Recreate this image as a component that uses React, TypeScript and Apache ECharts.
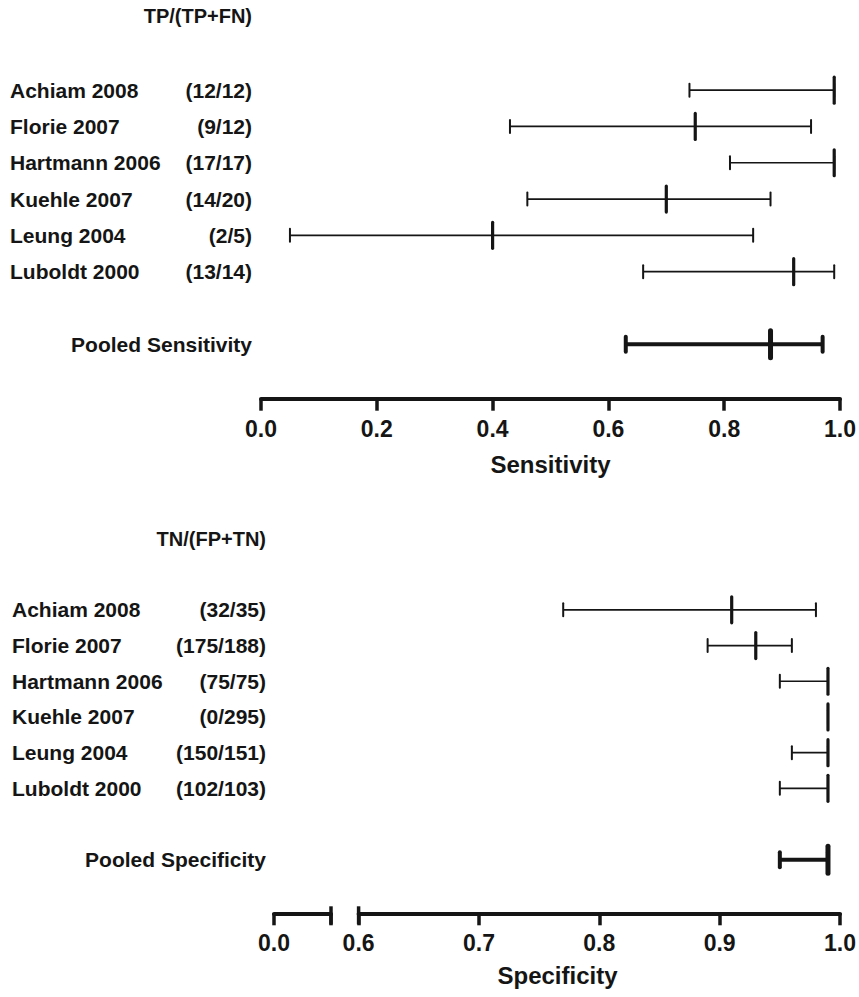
import React, { useEffect, useRef } from "react";
import * as echarts from "echarts";

// ---------- data ----------
const studies = ["Achiam 2008", "Florie 2007", "Hartmann 2006", "Kuehle 2007", "Leung 2004", "Luboldt 2000"];

const sensCounts = ["(12/12)", "(9/12)", "(17/17)", "(14/20)", "(2/5)", "(13/14)"];
const sensPoint = [0.99, 0.75, 0.99, 0.7, 0.4, 0.92];
const sensLow = [0.74, 0.43, 0.81, 0.46, 0.05, 0.66];
const sensHigh = [0.99, 0.95, 0.99, 0.88, 0.85, 0.99];
const sensPooled = { label: "Pooled Sensitivity", low: 0.63, point: 0.88, high: 0.97 };

const specCounts = ["(32/35)", "(175/188)", "(75/75)", "(0/295)", "(150/151)", "(102/103)"];
const specPoint = [0.91, 0.93, 0.99, 0.99, 0.99, 0.99];
const specLow = [0.77, 0.89, 0.95, 0.99, 0.96, 0.95];
const specHigh = [0.98, 0.96, 0.99, 0.99, 0.99, 0.99];
const specPooled = { label: "Pooled Specificity", low: 0.95, point: 0.99, high: 0.99 };

const sensTitle = "TP/(TP+FN)";
const specTitle = "TN/(FP+TN)";
const sensAxisName = "Sensitivity";
const specAxisName = "Specificity";

// broken specificity axis: left stub [0, 0.05], main part [0.6, 1.0]
const specStub = [0, 0.05];
const specMain = [0.6, 1.0];

// ---------- helpers ----------
const INK = "#151515";
const FONT = "'Liberation Sans', Arial, Helvetica, sans-serif";

const rowCats = (pooledLabel: string) => [...studies, "gap", pooledLabel, "pad"];

const buildRows = (low: number[], point: number[], high: number[], pooled: { low: number; point: number; high: number }) => {
  const rows = studies.map((_, i) => [i, low[i], point[i], high[i], 0]);
  rows.push([studies.length + 1, pooled.low, pooled.point, pooled.high, 1]);
  return rows;
};

const renderBar = (params: any, api: any) => {
  const row = api.value(0);
  const lo = api.coord([api.value(1), row]);
  const pt = api.coord([api.value(2), row]);
  const hi = api.coord([api.value(3), row]);
  const pooled = api.value(4) === 1;
  const y = lo[1];
  const lw = pooled ? 4 : 1.7;
  const capH = pooled ? 7.5 : 6.5;
  const capW = pooled ? 4 : 2;
  const ptH = pooled ? 13.5 : 13;
  const ptW = pooled ? 5 : 3.2;
  return {
    type: "group",
    children: [
      { type: "line", shape: { x1: lo[0], y1: y, x2: hi[0], y2: y }, style: { stroke: INK, lineWidth: lw } },
      { type: "line", shape: { x1: lo[0], y1: y - capH, x2: lo[0], y2: y + capH }, style: { stroke: INK, lineWidth: capW, lineCap: "round" } },
      { type: "line", shape: { x1: hi[0], y1: y - capH, x2: hi[0], y2: y + capH }, style: { stroke: INK, lineWidth: capW, lineCap: "round" } },
      { type: "line", shape: { x1: pt[0], y1: y - ptH, x2: pt[0], y2: y + ptH }, style: { stroke: INK, lineWidth: ptW, lineCap: "round" } },
    ],
  };
};

const renderCap = (params: any, api: any) => {
  const x = api.coord([api.value(0), 0])[0];
  const cs = params.coordSys;
  const yAxis = cs.y + cs.height;
  return {
    type: "line",
    shape: { x1: x, y1: yAxis - 7, x2: x, y2: yAxis + 11 },
    style: { stroke: INK, lineWidth: 3.5 },
  };
};

const rowLabel = (counts: string[]) => (value: string, idx: number) => {
  if (idx < studies.length) return `{n|${studies[idx]}}{c|${counts[idx]}}`;
  if (idx === studies.length + 1) return `{p|${value}}`;
  return "";
};

const rowRich = (nW: number, cW: number) => ({
  n: { width: nW, align: "left", fontFamily: FONT, fontWeight: "bold", fontSize: 21, color: INK },
  c: { width: cW, align: "right", fontFamily: FONT, fontWeight: "bold", fontSize: 21, color: INK },
  p: { align: "right", fontFamily: FONT, fontWeight: "bold", fontSize: 21, color: INK },
});

const axisCommon = {
  axisLine: { show: true, lineStyle: { color: INK, width: 4 } },
  axisTick: { show: true, length: 12, lineStyle: { color: INK, width: 3.5 } },
  axisLabel: {
    color: INK,
    fontFamily: FONT,
    fontWeight: "bold",
    fontSize: 23,
    margin: 19,
    formatter: (v: number) => v.toFixed(1),
  },
  splitLine: { show: false },
  nameTextStyle: { color: INK, fontFamily: FONT, fontWeight: "bold", fontSize: 24 },
};

export default function App() {
  const ref = useRef<HTMLDivElement>(null);

  useEffect(() => {
    document.body.style.margin = "0";
    if (!ref.current) return;
    const chart = echarts.init(ref.current, null, { renderer: "svg" });

    const sensRows = buildRows(sensLow, sensPoint, sensHigh, sensPooled);
    const specRows = buildRows(specLow, specPoint, specHigh, specPooled);

    const hiddenCat = (cats: string[], gridIndex: number) => ({
      type: "category",
      gridIndex,
      data: cats,
      inverse: true,
      axisLine: { show: false },
      axisTick: { show: false },
      axisLabel: { show: false },
      splitLine: { show: false },
    });

    chart.setOption({
      animation: false,
      backgroundColor: "#ffffff",
      title: [
        {
          text: sensTitle,
          right: 607,
          top: 6,
          padding: 0,
          textStyle: { color: INK, fontFamily: FONT, fontWeight: "bold", fontSize: 20 },
        },
        {
          text: specTitle,
          right: 593,
          top: 529,
          padding: 0,
          textStyle: { color: INK, fontFamily: FONT, fontWeight: "bold", fontSize: 20 },
        },
      ],
      grid: [
        { left: 261, right: 19, top: 72, height: 326.7 },
        { left: 358.6, right: 18, top: 592, height: 321.3 },
        { left: 274, width: 57, top: 592, height: 321.3 },
        { left: 274, right: 18, top: 592, height: 321.3 },
      ],
      xAxis: [
        {
          ...axisCommon,
          type: "value",
          gridIndex: 0,
          min: 0,
          max: 1,
          interval: 0.2,
          name: sensAxisName,
          nameLocation: "middle",
          nameGap: 54,
        },
        {
          ...axisCommon,
          type: "value",
          gridIndex: 1,
          min: specMain[0],
          max: specMain[1],
          interval: 0.1,
          axisLabel: { ...axisCommon.axisLabel, margin: 18 },
        },
        {
          ...axisCommon,
          type: "value",
          gridIndex: 2,
          min: specStub[0],
          max: specStub[1],
          interval: 0.05,
          axisLabel: { ...axisCommon.axisLabel, margin: 18, formatter: (v: number) => (v === 0 ? "0.0" : "") },
        },
        {
          type: "value",
          gridIndex: 3,
          min: 0,
          max: 1,
          axisLine: { show: false },
          axisTick: { show: false },
          axisLabel: { show: false },
          splitLine: { show: false },
          name: specAxisName,
          nameLocation: "middle",
          nameGap: 50,
          nameTextStyle: axisCommon.nameTextStyle,
        },
      ],
      yAxis: [
        {
          type: "category",
          gridIndex: 0,
          data: rowCats(sensPooled.label),
          inverse: true,
          axisLine: { show: false },
          axisTick: { show: false },
          splitLine: { show: false },
          axisLabel: {
            margin: 9,
            interval: 0,
            formatter: rowLabel(sensCounts),
            rich: rowRich(170, 72),
          },
        },
        hiddenCat(rowCats(specPooled.label), 1),
        {
          type: "category",
          gridIndex: 2,
          data: rowCats(specPooled.label),
          inverse: true,
          axisLine: { show: false },
          axisTick: { show: false },
          splitLine: { show: false },
          axisLabel: {
            margin: 8,
            interval: 0,
            formatter: rowLabel(specCounts),
            rich: rowRich(160, 94),
          },
        },
        hiddenCat(rowCats(specPooled.label), 3),
      ],
      series: [
        {
          type: "custom",
          xAxisIndex: 0,
          yAxisIndex: 0,
          renderItem: renderBar,
          encode: { x: [1, 2, 3], y: 0 },
          data: sensRows,
          silent: true,
        },
        {
          type: "custom",
          xAxisIndex: 1,
          yAxisIndex: 1,
          renderItem: renderBar,
          encode: { x: [1, 2, 3], y: 0 },
          data: specRows,
          silent: true,
        },
        {
          type: "custom",
          xAxisIndex: 1,
          yAxisIndex: 1,
          renderItem: renderCap,
          encode: { x: 0, y: 1 },
          data: [[specMain[0], 0]],
          silent: true,
        },
        {
          type: "custom",
          xAxisIndex: 2,
          yAxisIndex: 2,
          renderItem: renderCap,
          encode: { x: 0, y: 1 },
          data: [[specStub[1], 0]],
          silent: true,
        },
      ],
    });

    return () => chart.dispose();
  }, []);

  return <div ref={ref} style={{ width: 859, height: 997 }} />;
}
